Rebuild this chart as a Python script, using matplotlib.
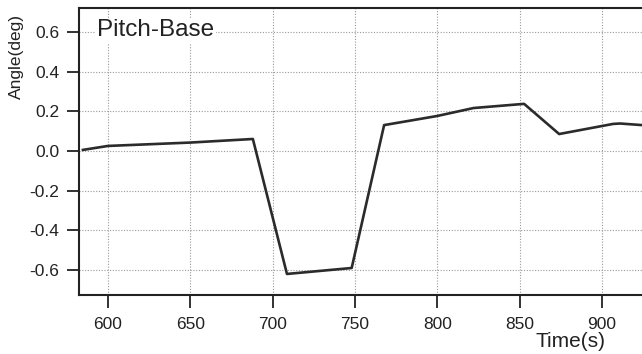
import matplotlib
matplotlib.use("Agg")
import matplotlib.pyplot as plt

plt.rcParams['font.family'] = ['Liberation Sans', 'DejaVu Sans']

time_s = [584.8, 600, 650, 688, 708.7, 748, 767.7, 800, 822, 852.7, 874, 906.8, 911, 924.3]
angle_deg = [0.005, 0.025, 0.042, 0.06, -0.62, -0.59, 0.13, 0.176, 0.216, 0.237, 0.085, 0.136, 0.138, 0.13]

xticks = [600, 650, 700, 750, 800, 850, 900]
yticks = [-0.6, -0.4, -0.2, 0.0, 0.2, 0.4, 0.6]

fig = plt.figure(figsize=(6.42, 3.54), dpi=100)
ax = fig.add_axes([0.123, 0.1667, 0.877, 0.8107])

ax.plot(time_s, angle_deg, color='#2b2b2b', linewidth=1.9, zorder=3)

ax.set_xlim(582.4, 924.3)
ax.set_ylim(-0.726, 0.72)
ax.set_xticks(xticks)
ax.set_yticks(yticks)
ax.set_xticklabels([str(v) for v in xticks])
ax.set_yticklabels(['%.1f' % v for v in yticks])

ax.grid(True, linestyle=(0, (1, 1.5)), color='#999999', linewidth=0.8)
for s in ['left', 'bottom', 'top']:
    ax.spines[s].set_linewidth(1.5)
    ax.spines[s].set_color('#222222')
ax.spines['right'].set_visible(False)

ax.tick_params(axis='both', direction='out', length=9, width=1.3, color='#222222',
               labelsize=12.5, labelcolor='#222222')
ax.tick_params(axis='x', pad=7)
ax.tick_params(axis='y', pad=5)

ax.set_ylabel('Angle(deg)', fontsize=12.5, color='#222222')
ax.yaxis.set_label_coords(-0.097, 0.83)

fig.text(0.889, 0.034, 'Time(s)', fontsize=15, color='#222222', ha='center', va='center')

ax.text(0.032, 0.902, 'Pitch-Base', transform=ax.transAxes, fontsize=17.5, color='#222222',
        va='baseline', ha='left', zorder=4,
        bbox=dict(facecolor='white', edgecolor='none', pad=1))

fig.savefig('out.png', dpi=100)
